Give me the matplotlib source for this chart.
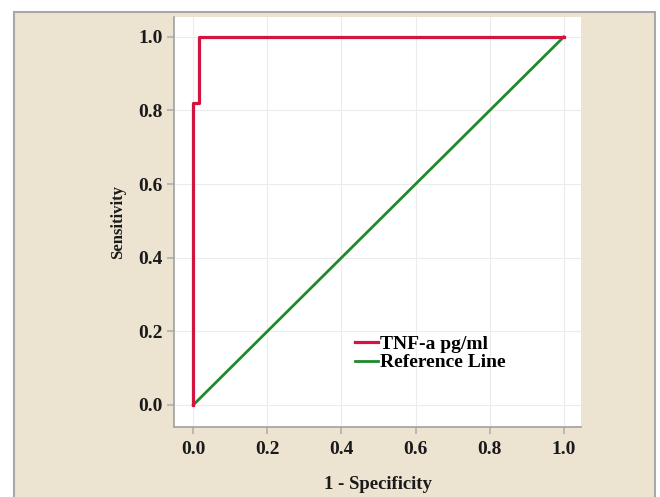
import matplotlib
matplotlib.use('Agg')

import matplotlib.pyplot as plt
from matplotlib.patches import Rectangle

plt.rcParams['font.family'] = ['Liberation Serif', 'DejaVu Serif']
plt.rcParams['font.weight'] = 'bold'

# ROC curve points (1 - specificity, sensitivity)
roc_fpr = [0.0, 0.0, 0.016, 0.016, 1.0]
roc_tpr = [0.0, 0.82, 0.82, 1.0, 1.0]
ref_x = [0.0, 1.0]
ref_y = [0.0, 1.0]
ticks = [0.0, 0.2, 0.4, 0.6, 0.8, 1.0]

fig = plt.figure(figsize=(6.6, 4.97), dpi=100)
fig.patch.set_facecolor('white')

# beige panel behind the plot
fig.patches.append(Rectangle((0.021, -0.01), 0.971, 0.986, transform=fig.transFigure,
                             facecolor='#ece4d0', edgecolor='#a8a8a8', linewidth=1.5, zorder=-5))

ax = fig.add_axes([0.2636, 0.1408, 0.617, 0.825])
ax.set_zorder(2)
ax.set_facecolor('white')

ax.plot(roc_fpr, roc_tpr, color='#d2143f', linewidth=2.3, label='TNF-a pg/ml', zorder=3)
ax.plot(ref_x, ref_y, color='#1e8a2c', linewidth=2.0, label='Reference Line', zorder=2)

ax.set_xlim(-0.052, 1.047)
ax.set_ylim(-0.06, 1.054)
ax.set_xticks(ticks)
ax.set_yticks(ticks)
ax.set_xticklabels([f'{t:.1f}' for t in ticks])
ax.set_yticklabels([f'{t:.1f}' for t in ticks])
ax.tick_params(axis='both', labelsize=14, labelcolor='#1a1a1a', color='#b0b0b0',
               length=5, width=1.2, pad=3)
ax.tick_params(axis='x', pad=5)
ax.grid(True, color='#ececec', linewidth=0.8)
ax.set_axisbelow(True)

for s in ['top', 'right']:
    ax.spines[s].set_visible(False)
for s in ['left', 'bottom']:
    ax.spines[s].set_color('#a0a0a0')
    ax.spines[s].set_linewidth(1.2)

ax.set_xlabel('1 - Specificity', fontsize=13.5, fontweight='bold', labelpad=13, color='#1a1a1a')
ax.set_ylabel('Sensitivity', fontsize=12, fontweight='bold', labelpad=9, color='#1a1a1a')

leg = ax.legend(loc='center left', bbox_to_anchor=(0.444, 0.18), frameon=False,
                prop={'size': 14, 'weight': 'bold'}, handlelength=1.2, handletextpad=0.1,
                labelspacing=0.05, borderpad=0, borderaxespad=0)

fig.savefig('out.png', dpi=100)
plt.close()
